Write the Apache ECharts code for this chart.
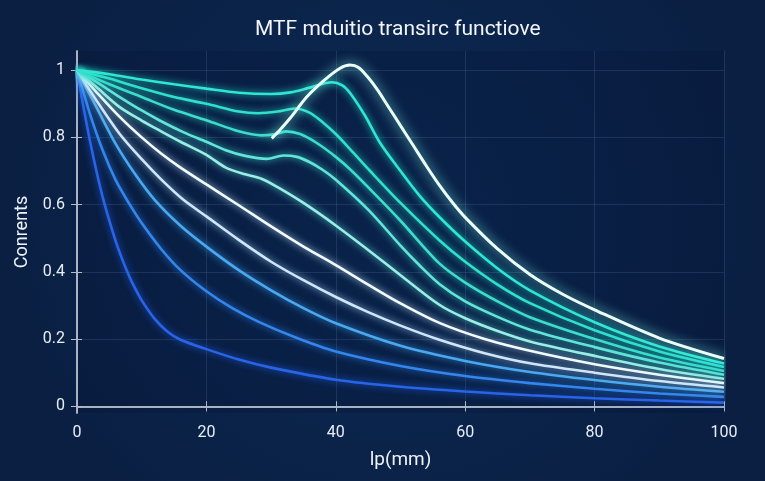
<!DOCTYPE html>
<html>
<head>
<meta charset="utf-8">
<script src="https://cdn.jsdelivr.net/npm/echarts@6.0.0/dist/echarts.min.js"></script>
<style>
html,body{margin:0;padding:0;width:765px;height:481px;overflow:hidden;background:#0c2347;}
#c{width:765px;height:481px;}
</style>
</head>
<body>
<div id="c"></div>
<script>
// ---- data ----
const titleText = 'MTF mduitio transirc functiove';
const xName = 'lp(mm)';
const yName = 'Conrents';
const xTicks = [0, 20, 40, 60, 80, 100];
const yTicks = [0, 0.2, 0.4, 0.6, 0.8, 1];

const curvePeak = [[30.1,0.797],[31.5,0.825],[32.9,0.856],[35.5,0.92],[38.1,0.968],[40.6,1.005],[42.2,1.015],[43.5,1.008],[45,0.978],[46.5,0.94],[48,0.895],[50,0.835],[52,0.775],[54,0.715],[56,0.658],[58,0.607],[60,0.562],[65,0.468],[70,0.392],[75,0.334],[80,0.287],[90,0.203],[100,0.142]];
const curve1 = [[0,1],[5,0.988],[10,0.972],[15,0.958],[20,0.945],[25,0.933],[30,0.929],[33,0.934],[36,0.948],[39.4,0.964],[41,0.955],[42.2,0.932],[44.5,0.865],[46.8,0.785],[50,0.7],[53,0.625],[56,0.563],[60,0.49],[65,0.41],[70,0.345],[80,0.25],[90,0.178],[100,0.127]];
const curve2 = [[0,1],[5,0.975],[10,0.946],[15,0.92],[20,0.9],[25,0.877],[28,0.872],[31,0.877],[33.7,0.886],[36,0.873],[38.1,0.843],[40,0.81],[42.2,0.765],[45.3,0.7],[50,0.605],[56,0.494],[60,0.43],[65,0.362],[70,0.307],[80,0.226],[90,0.163],[100,0.117]];
const curve3 = [[0,1],[5,0.958],[10,0.92],[15,0.882],[20,0.851],[25,0.818],[28.5,0.806],[30.5,0.809],[32.3,0.818],[34.5,0.81],[37,0.784],[40,0.742],[42.2,0.705],[46,0.632],[50,0.552],[56,0.425],[60,0.368],[65,0.312],[70,0.265],[80,0.2],[90,0.145],[100,0.105]];
const curve4 = [[0,1],[3,0.965],[6.6,0.92],[10,0.88],[13,0.848],[16.5,0.815],[20,0.787],[23,0.762],[26,0.745],[29.3,0.736],[31.9,0.746],[34,0.742],[36,0.726],[38,0.703],[40,0.674],[45,0.585],[50,0.478],[53,0.418],[56,0.364],[60,0.312],[65,0.266],[70,0.228],[80,0.176],[90,0.13],[100,0.094]];
const curve5 = [[0,1],[3,0.95],[6.6,0.89],[10,0.85],[13,0.818],[16,0.787],[20,0.748],[23,0.71],[26,0.69],[28.5,0.677],[31,0.652],[35,0.605],[40,0.538],[45,0.465],[50,0.39],[56,0.302],[60,0.262],[65,0.224],[70,0.193],[80,0.15],[90,0.111],[100,0.082]];
const curve6 = [[0,1],[3,0.935],[6.6,0.861],[10,0.8],[13,0.752],[16,0.71],[20,0.66],[25,0.598],[30,0.535],[35,0.475],[40,0.42],[45,0.362],[50,0.306],[56,0.248],[63,0.2],[70,0.165],[80,0.125],[90,0.094],[100,0.069]];
const curve7 = [[0,1],[3,0.91],[6.6,0.81],[10,0.735],[13,0.675],[16.4,0.615],[20,0.565],[25,0.495],[30,0.43],[35,0.375],[40,0.325],[45,0.28],[50,0.24],[56,0.198],[63,0.158],[70,0.128],[80,0.1],[90,0.075],[100,0.056]];
const curve8 = [[0,1],[3,0.89],[6,0.78],[9,0.69],[12,0.614],[16,0.537],[20,0.475],[25,0.405],[30,0.345],[35,0.292],[40,0.247],[50,0.18],[60,0.135],[70,0.102],[80,0.078],[90,0.058],[100,0.043]];
const curve9 = [[0,1],[2,0.87],[4,0.76],[6,0.672],[8,0.605],[10,0.545],[13,0.468],[16,0.405],[20,0.342],[24,0.292],[28,0.252],[34,0.203],[40,0.163],[50,0.12],[60,0.09],[70,0.069],[80,0.052],[90,0.038],[100,0.028]];
const curve10 = [[0,1],[1,0.89],[2,0.79],[3,0.7],[4,0.62],[5,0.552],[6,0.49],[7,0.437],[8,0.39],[9,0.35],[10,0.315],[12,0.26],[14,0.222],[16,0.198],[20,0.17],[25,0.139],[30,0.115],[40,0.079],[50,0.058],[60,0.044],[70,0.033],[80,0.024],[90,0.017],[100,0.011]];

const curves = [curve10, curve9, curve8, curve7, curve6, curve5, curve4, curve3, curve2, curve1, curvePeak];
const curveColors = ['#2a64e6','#3486ec','#4aa8f0','#cfe6fa','#f2fbff','#9aeee6','#62e4d8','#3edccd','#30e0cc','#2fe6d2','#eafffb'];
const glowColors  = ['#1f5ae0','#2a7ee8','#3ba0ee','#9fd0f5','#bfe6ff','#5fe0d8','#3ed8cc','#2ad4c4','#22d8c4','#22e0cc','#7ffff0'];

// ---- chart ----
const chart = echarts.init(document.getElementById('c'), null, {renderer:'canvas'});
const fontFam = "'Liberation Sans Narrow','Roboto','Noto Sans',sans-serif";
const axisTxt = {color:'#e8eef8', fontSize:16, fontFamily:fontFam};
const gridLine = {show:true, lineStyle:{color:'rgba(120,150,200,0.18)', width:1}};
const frame = {show:true, lineStyle:{color:'#b4bccb', width:1.5}};

const series = curves.map((c, i) => ({
  type:'line', data:c, smooth:0.3, showSymbol:false, symbol:'none',
  z: (i === curves.length - 1) ? 12 : 3 + i,
  lineStyle:{color:curveColors[i], width:(i === curves.length - 1) ? 3 : 2.6,
    shadowBlur:(i === curves.length - 1) ? 12 : 7, shadowColor:glowColors[i]},
  emphasis:{disabled:true}
}));

chart.setOption({
  backgroundColor:{type:'radial', x:0.5, y:0.45, r:0.8, colorStops:[{offset:0,color:'#0d2a55'},{offset:1,color:'#0a1f42'}]},
  animation:false,
  title:{text:titleText, left:250, top:14, textStyle:{color:'#f2f5fa', fontSize:21, fontWeight:'normal', fontFamily:fontFam}},
  grid:{left:77, right:41, top:51, bottom:68, show:true, backgroundColor:'rgba(6,24,56,0.35)', borderWidth:0},
  xAxis:[
    {type:'value', min:0, max:100, interval:20, position:'bottom',
     name:xName, nameLocation:'middle', nameGap:38, nameTextStyle:{color:'#eef2f8', fontSize:19, fontFamily:fontFam},
     axisLine:frame, axisTick:{show:true, inside:true, length:5, lineStyle:{color:'#b4bccb'}},
     axisLabel:Object.assign({margin:12}, axisTxt), splitLine:gridLine},
    {type:'value', min:0, max:100, interval:20, position:'top',
     axisLine:frame, axisTick:{show:true, inside:true, length:5, lineStyle:{color:'#b4bccb'}},
     axisLabel:{show:false}, splitLine:{show:false}}
  ],
  yAxis:[
    {type:'value', min:-0.02, max:1.057, position:'left',
     name:yName, nameLocation:'middle', nameGap:42, nameTextStyle:{color:'#eef2f8', fontSize:18, fontFamily:fontFam},
     axisLine:frame,
     axisTick:{show:true, inside:true, length:5, customValues:yTicks, lineStyle:{color:'#b4bccb'}},
     axisLabel:Object.assign({margin:12, customValues:yTicks, formatter:v => String(+v.toFixed(2))}, axisTxt),
     splitLine:gridLine},
    {type:'value', min:-0.02, max:1.057, position:'right',
     axisLine:frame,
     axisTick:{show:true, inside:true, length:6, customValues:yTicks, lineStyle:{color:'#b4bccb'}},
     axisLabel:{show:false}, splitLine:{show:false}}
  ],
  series:series
});
</script>
</body>
</html>
